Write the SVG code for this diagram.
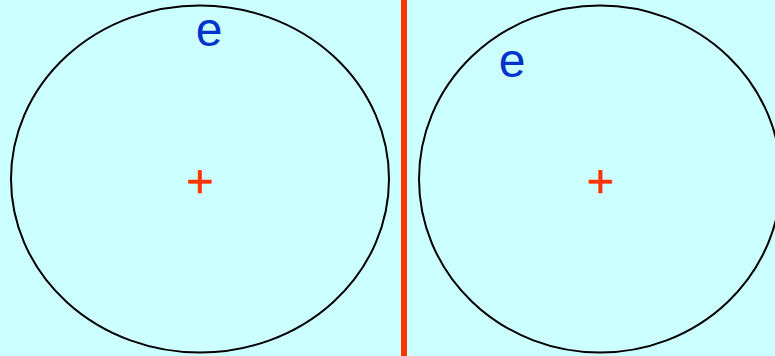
<svg xmlns="http://www.w3.org/2000/svg" width="775" height="356" viewBox="0 0 775 356">
<style>
.orb{fill:none;stroke:#000;stroke-width:2}
.e{font-family:"Liberation Sans",Arial,sans-serif;font-size:48px;fill:#0033CC;text-anchor:middle}
.plus{font-family:"Liberation Sans",Arial,sans-serif;font-size:47px;fill:#FF3300;stroke:#FF3300;stroke-width:0.6;text-anchor:middle}
</style>
<rect x="0" y="0" width="775" height="356" fill="#CCFFFF"/>
<g id="left-atom">
<ellipse class="orb" cx="200" cy="179" rx="189" ry="173.5"/>
<text class="plus" x="200" y="196.5">+</text>
<text class="e" x="209" y="46">e</text>
</g>
<g id="right-atom">
<ellipse class="orb" cx="600" cy="179" rx="181" ry="173.5"/>
<text class="plus" x="600.5" y="196.5">+</text>
<text class="e" x="512" y="76.5">e</text>
</g>
<g id="connectors">
<rect x="401" y="0" width="6" height="356" fill="#FF3300"/>
</g>
</svg>
